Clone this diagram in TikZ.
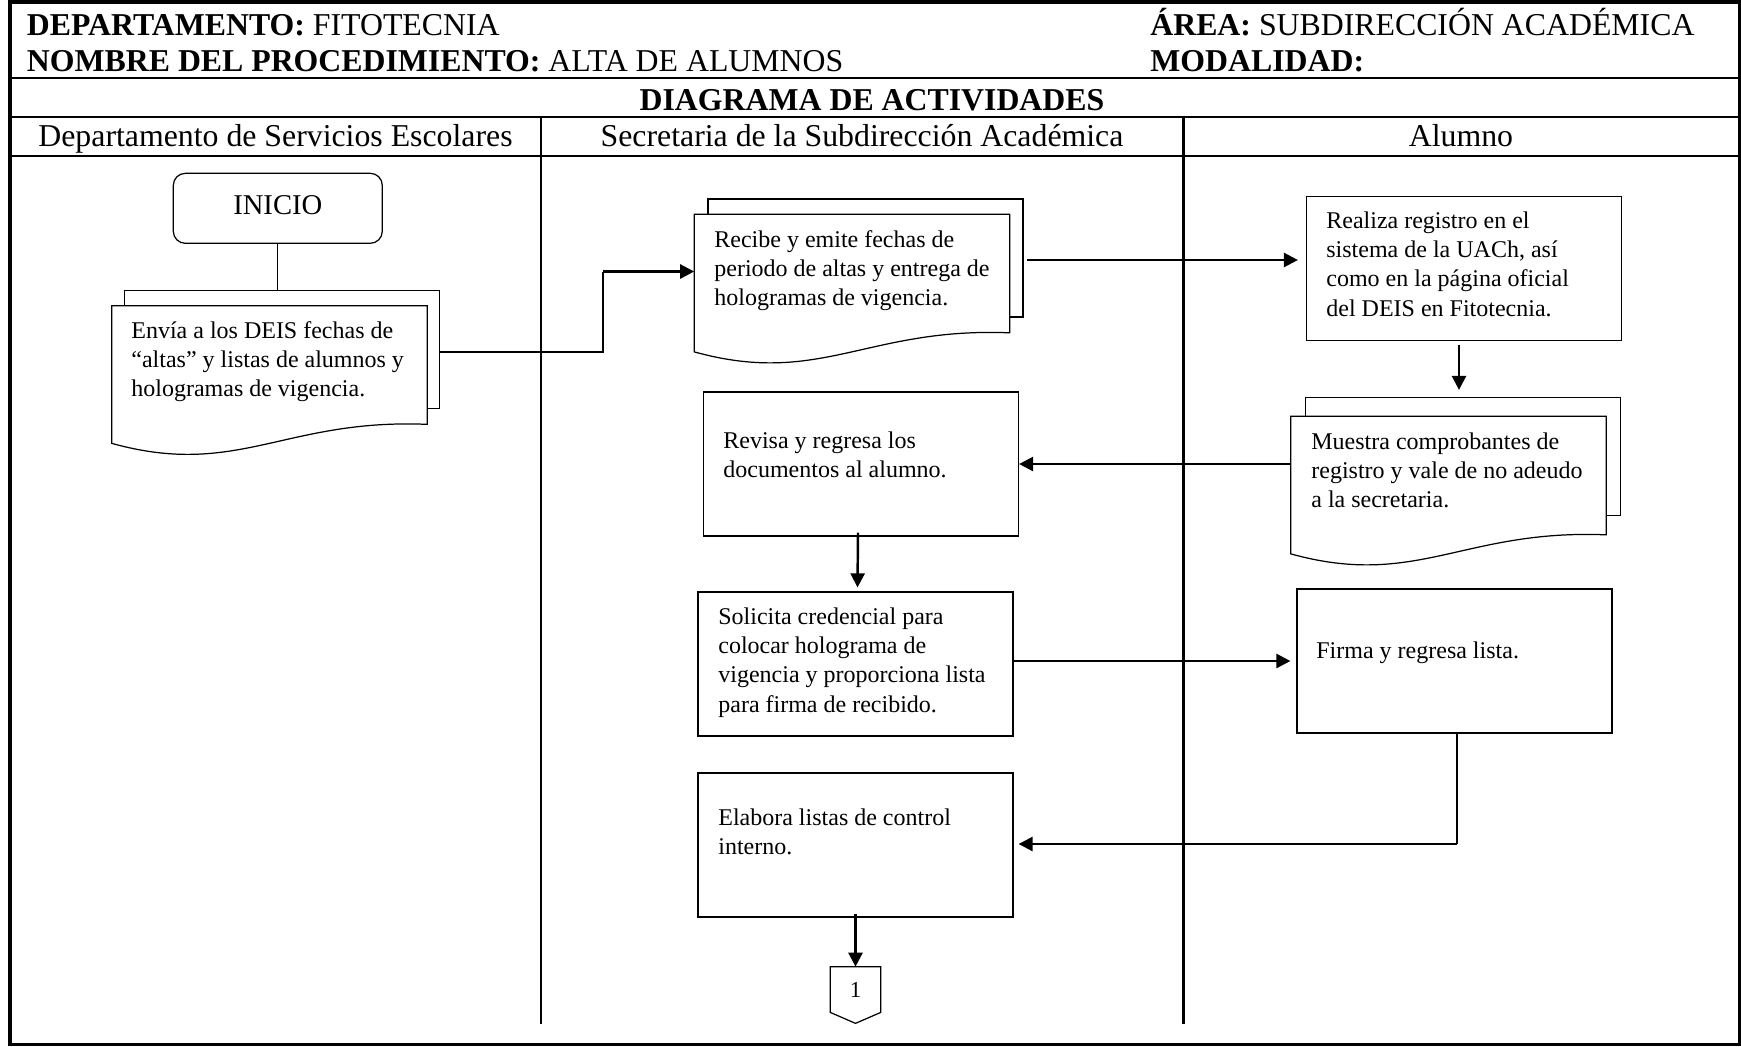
\documentclass[tikz,border=0pt]{standalone}
\usepackage{fontspec}
\setmainfont{Liberation Serif}
\usetikzlibrary{arrows.meta,calc}
\tikzset{
  hdr/.style={inner sep=0pt, font=\fontsize{18.1}{21}\selectfont},
  txt/.style={inner sep=0pt, anchor=north west, align=left, font=\fontsize{13.66}{16.7}\selectfont},
  boxl/.style={draw, line width=0.7pt},
  procbox/.style={boxl, rectangle, inner sep=0pt, minimum width=6.3cm, minimum height=2.88cm},
  sheet/.style={boxl, fill=white, rectangle, inner sep=0pt, minimum width=6.3cm, minimum height=2.36cm},
  ghost/.style={rectangle, inner sep=0pt, minimum width=6.3cm, minimum height=2.36cm},
  thinline/.style={line width=0.7pt},
  arr/.style={line width=1.4pt, -{Triangle[length=8pt,width=8pt]}},
  gridline/.style={line width=1.3pt},
}
\newcommand\drawdocfront[1]{%
  \draw[boxl, fill=white] (#1.north west) -- (#1.north east) -- (#1.south east)
    .. controls ($(#1.south west)+(173,-6)$) and ($(#1.south west)+(126,54)$) ..
    ($(#1.south west)+(0,19)$) -- cycle;}
\begin{document}
\begin{tikzpicture}[x=0.02cm, y=-0.02cm]
\useasboundingbox (0,0) rectangle (1741,1046);
% frame and grid
\draw[line width=2.1pt] (10,2) rectangle (1739.5,1044.5);
\draw[gridline] (10,78) -- (1739.5,78);
\draw[gridline] (10,117) -- (1739.5,117);
\draw[gridline] (10,156) -- (1739.5,156);
\draw[gridline] (541,117) -- (541,1024);
\draw[gridline] (1183.5,117) -- (1183.5,1024);
% header texts
\node[hdr, anchor=base west] (dep) at (26.6,35) {\textbf{DEPARTAMENTO:} FITOTECNIA};
\node[hdr, anchor=base west] (nom) at (26.6,71.5) {\textbf{NOMBRE DEL PROCEDIMIENTO:} ALTA DE ALUMNOS};
\node[hdr, anchor=base west] (area) at (1150,35) {\textbf{ÁREA:} SUBDIRECCIÓN ACADÉMICA};
\node[hdr, anchor=base west] (moda) at (1150,71.5) {\textbf{MODALIDAD:}};
\node[hdr, anchor=base] (diag) at (872,110) {\textbf{DIAGRAMA DE ACTIVIDADES}};
\node[hdr, anchor=base] (lane1) at (275.5,146.5) {Departamento de Servicios Escolares};
\node[hdr, anchor=base] (lane2) at (862,146.5) {Secretaria de la Subdirección Académica};
\node[hdr, anchor=base] (lane3) at (1461,146.5) {Alumno};
% INICIO
\node[boxl, rounded corners=0.24cm, minimum width=4.18cm, minimum height=1.4cm, inner sep=0pt,
  text height=10.8pt, text depth=4pt, font=\fontsize{16.3}{19}\selectfont] (inicio) at (277.8,208.3) {INICIO};
% document 1
\node[sheet] (d1b) at (282,349.5) {};
\node[ghost] (d1) at (269.5,365) {};
\drawdocfront{d1}
\node[txt] (t1) at (131,317.4) {\strut Envía a los DEIS fechas de\\“altas” y listas de alumnos y\\hologramas de vigencia.};
% document 2
\node[sheet] (d2b) at (865.5,258) {};
\node[ghost] (d2) at (852,273.5) {};
\drawdocfront{d2}
\node[txt] (t2) at (714,226.4) {\strut Recibe y emite fechas de\\periodo de altas y entrega de\\hologramas de vigencia.};
% Realiza
\node[procbox] (realiza) at (1464,268.5) {};
\node[txt] (t3) at (1326,207.4) {\strut Realiza registro en el\\sistema de la UACh, así\\como en la página oficial\\del DEIS en Fitotecnia.};
% Muestra document
\node[sheet] (mb) at (1463,456.5) {};
\node[ghost] (m) at (1448.5,475.5) {};
\drawdocfront{m}
\node[txt] (t4) at (1311,428.4) {\strut Muestra comprobantes de\\registro y vale de no adeudo\\a la secretaria.};
% Revisa
\node[procbox] (revisa) at (861,464) {};
\node[txt] (t5) at (723,427.4) {\strut Revisa y regresa los\\documentos al alumno.};
% Solicita
\node[procbox] (solicita) at (855.5,664) {};
\node[txt] (t6) at (718,603.4) {\strut Solicita credencial para\\colocar holograma de\\vigencia y proporciona lista\\para firma de recibido.};
% Firma
\node[procbox] (firma) at (1454.5,661) {};
\node[txt] (t7) at (1316,637.4) {\strut Firma y regresa lista.};
% Elabora
\node[procbox] (elabora) at (855.5,845) {};
\node[txt] (t8) at (718,804.4) {\strut Elabora listas de control\\interno.};
% off-page connector
\node[inner sep=0pt, minimum width=1cm, minimum height=0.9cm, font=\fontsize{13}{15}\selectfont] (c1) at (855.5,989.5) {1};
\draw[boxl] (c1.north west) -- (c1.north east) -- (c1.south east) -- ($(c1.south)+(0,11)$) -- (c1.south west) -- cycle;
% connectors
\draw[thinline] (inicio.south) -- (inicio.south |- d1b.north);
\coordinate (k1) at (603,352);
\coordinate (k2) at (603,271.5);
\draw[thinline] (d1b.east |- k1) -- (k1) -- (k2);
\draw[arr] (k2) -- (d2.west |- k2);
\coordinate (k3) at (1027,260);
\draw[arr] (k3) -- ($(realiza.west |- k3)+(-8,0)$);
\draw[arr] ($(realiza.south)+(-5,4)$) -- ($(mb.north)+(-4,-7)$);
\draw[arr] (m.west |- revisa.east) -- (revisa.east);
\draw[arr] ($(revisa.south)+(-3,-4)$) -- ($(solicita.north)+(2,-4)$);
\draw[arr] (solicita.east |- firma.west) -- ($(firma.west)+(-6,0)$);
\coordinate (k4) at (1457,844);
\draw[thinline] (k4 |- firma.south) -- (k4);
\draw[arr] (k4) -- ($(k4 -| elabora.east)+(5,0)$);
\draw[arr] ($(elabora.south)+(0,-4)$) -- (c1.north);
\end{tikzpicture}
\end{document}
